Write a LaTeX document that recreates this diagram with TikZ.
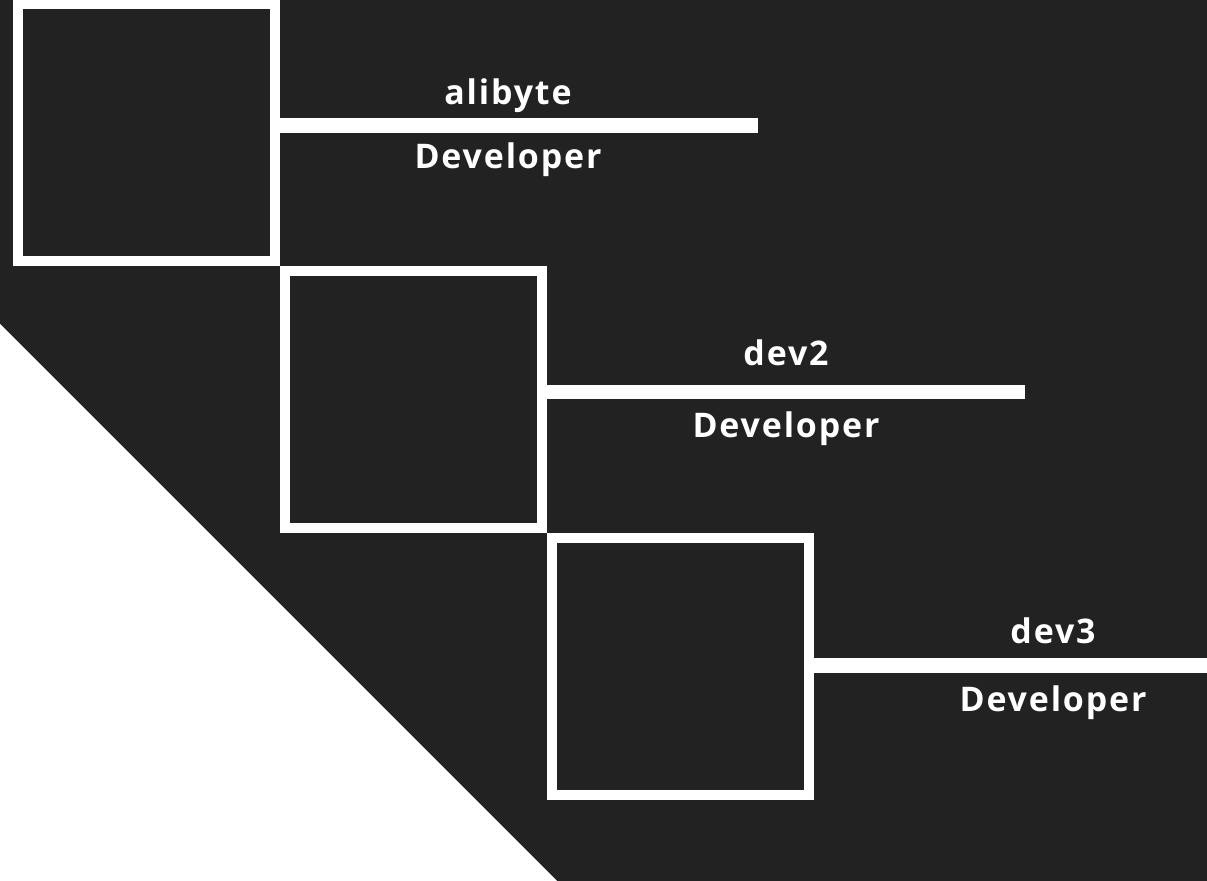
\documentclass[tikz,border=0pt]{standalone}
\usepackage{fontspec}
\setmainfont{Open Sans}[LetterSpace=5.5]
\usetikzlibrary{positioning}
\definecolor{bgdark}{RGB}{34,34,34}

\begin{document}
\begin{tikzpicture}[x=0.02cm,y=-0.02cm,
  devbox/.style={draw=white,fill=bgdark,line width=0.2cm,minimum size=5.14cm,inner sep=0pt},
  devline/.style={white,line width=0.29cm},
  devtext/.style={white,anchor=base,inner sep=0pt,font=\fontsize{19.3}{22}\selectfont\bfseries}]

  \useasboundingbox (0,0) rectangle (1207,881);
  \clip (0,0) rectangle (1207,881);
  \fill[bgdark] (0,0) rectangle (1207,881);
  \fill[white] (0,324)--(557,881)--(0,881)--cycle;

  \node[devbox] (box1) at (146.5,132.5) {};
  \node[devbox] (box2) at (413.5,399.5) {};
  \node[devbox] (box3) at (680.5,666.5) {};

  \coordinate (end1) at (758,125.5);
  \coordinate (end2) at (1025,392);
  \coordinate (end3) at (1210,665.5);

  \draw[devline] (box1.east |- end1)--(end1);
  \draw[devline] (box2.east |- end2)--(end2);
  \draw[devline] (box3.east |- end3)--(end3);

  \node[devtext] (name1) at (508,105) {alibyte};
  \node[devtext] (role1) at (508,169) {Developer};
  \node[devtext] (name2) at (786,366) {dev2};
  \node[devtext] (role2) at (786,438) {Developer};
  \node[devtext] (name3) at (1053,643) {dev3};
  \node[devtext] (role3) at (1053,711) {Developer};

\end{tikzpicture}
\end{document}
